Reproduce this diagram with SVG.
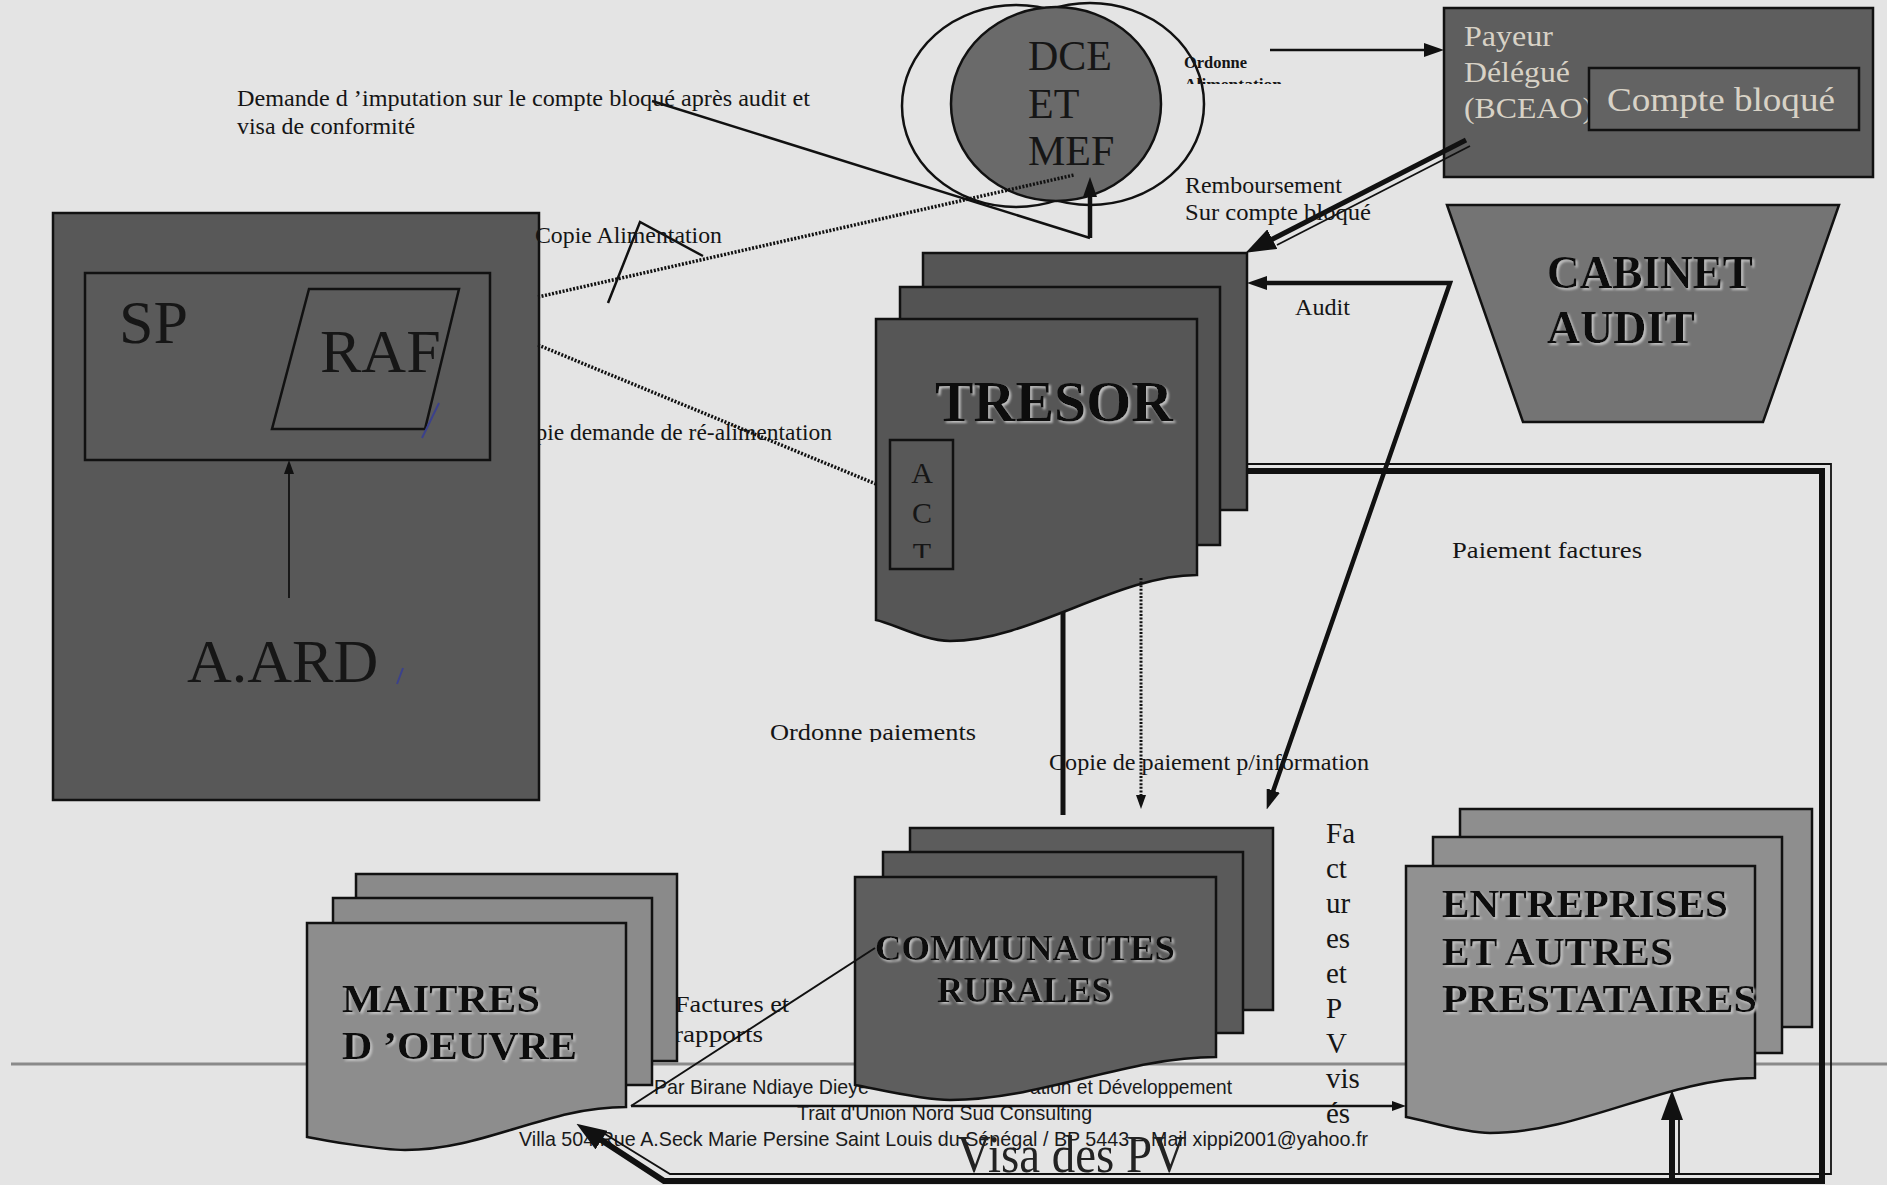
<svg xmlns="http://www.w3.org/2000/svg" width="1887" height="1185" viewBox="0 0 1887 1185">
<defs>
<style>
.bg{fill:#e4e4e4}
.nd{stroke:#111;stroke-width:2.5}
.lbl{font-family:"Liberation Serif","Times New Roman",serif;font-size:23px;fill:#151515}
.big{font-family:"Liberation Serif","Times New Roman",serif;fill:#161616}
.title{font-family:"Liberation Serif","Times New Roman",serif;font-weight:bold;fill:#111;filter:url(#emb)}
.pale{font-family:"Liberation Serif","Times New Roman",serif;fill:#d8d2c6}
.foot{font-family:"Liberation Sans Narrow","Liberation Sans",Arial,sans-serif;font-size:21px;fill:#1a1a1a}
.ln{fill:none;stroke:#111}
.dot{fill:none;stroke:#111;stroke-width:3.5;stroke-dasharray:2 1.6}
.pen{fill:none;stroke:#3b418c;stroke-width:2}
</style>
<filter id="emb" x="-5%" y="-20%" width="115%" height="150%">
<feDropShadow dx="2" dy="2" stdDeviation="0.8" flood-color="#c9c9c9" flood-opacity="0.9"/>
</filter>
<marker id="aL" markerUnits="userSpaceOnUse" markerWidth="30" markerHeight="22" refX="15" refY="11" orient="auto"><path d="M0,0 L30,11 L0,22 z" fill="#111"/></marker>
<marker id="aM" markerUnits="userSpaceOnUse" markerWidth="20" markerHeight="14" refX="10" refY="7" orient="auto-start-reverse"><path d="M0,0 L20,7 L0,14 z" fill="#111"/></marker>
<marker id="aS" markerUnits="userSpaceOnUse" markerWidth="14" markerHeight="10" refX="7" refY="5" orient="auto"><path d="M0,0 L14,5 L0,10 z" fill="#111"/></marker>
<clipPath id="cAlim"><rect x="1175" y="0" width="130" height="84"/></clipPath>
<clipPath id="cOrdP"><rect x="760" y="700" width="230" height="42"/></clipPath>
<clipPath id="cTrait"><rect x="785" y="1107" width="320" height="30"/></clipPath>
<clipPath id="cACT"><rect x="890" y="440" width="63" height="118"/></clipPath>
</defs>

<rect class="bg" x="0" y="0" width="1887" height="1185"/>

<g id="letterhead">
<line x1="11" y1="1064" x2="1887" y2="1064" stroke="#8a8a8a" stroke-width="3"/>
<text class="foot" x="654" y="1094" textLength="215" lengthAdjust="spacingAndGlyphs">Par Birane Ndiaye Dieye</text>
<text class="foot" x="1030" y="1094" textLength="202" lengthAdjust="spacingAndGlyphs">ation et Développement</text>
<text class="foot" x="797" y="1120" textLength="295" lengthAdjust="spacingAndGlyphs" clip-path="url(#cTrait)">Trait d'Union Nord Sud Consulting</text>
<text class="foot" x="519" y="1146" textLength="849" lengthAdjust="spacingAndGlyphs">Villa 504 Rue A.Seck Marie Persine Saint Louis du Sénégal / BP 5443 – Mail xippi2001@yahoo.fr</text>
</g>

<g id="labels-under">
<text class="lbl" x="508" y="440" textLength="324" lengthAdjust="spacingAndGlyphs">Copie demande de ré-alimentation</text>
<text class="lbl" x="675" y="1012" textLength="114" lengthAdjust="spacingAndGlyphs">Factures et</text>
<text class="lbl" x="674" y="1042" textLength="89" lengthAdjust="spacingAndGlyphs">rapports</text>
</g>

<g id="node-aard">
<rect class="nd" x="53" y="213" width="486" height="587" fill="#585858"/>
<rect class="nd" x="85" y="273" width="405" height="187" fill="#5a5a5a"/>
<text class="big" x="119" y="343" font-size="62">SP</text>
<polygon class="nd" points="309,289 459,289 425,429 272,429" fill="#5c5c5c"/>
<text class="big" x="320" y="372" font-size="62">RAF</text>
<text class="big" x="187" y="682" font-size="62">A.ARD</text>
<path class="pen" d="M422,438 L439,403"/>
<path class="pen" d="M403,668 L397,684"/>
</g>

<g id="node-dce">
<ellipse cx="1016" cy="106" rx="114" ry="101" fill="none" stroke="#111" stroke-width="2.5"/>
<ellipse cx="1090" cy="104" rx="114" ry="101" fill="none" stroke="#111" stroke-width="2.5"/>
<ellipse class="nd" cx="1056" cy="104" rx="105" ry="97" fill="#6a6a6a"/>
<text class="big" x="1028" y="70" font-size="42">DCE</text>
<text class="big" x="1028" y="118" font-size="42">ET</text>
<text class="big" x="1028" y="165" font-size="42">MEF</text>
</g>

<g id="node-payeur">
<rect class="nd" x="1444" y="8" width="429" height="169" fill="#5e5e5e"/>
<text class="pale" x="1464" y="46" font-size="30" textLength="89" lengthAdjust="spacingAndGlyphs">Payeur</text>
<text class="pale" x="1464" y="82" font-size="30" textLength="106" lengthAdjust="spacingAndGlyphs">Délégué</text>
<text class="pale" x="1464" y="118" font-size="30" textLength="129" lengthAdjust="spacingAndGlyphs">(BCEAO)</text>
<rect class="nd" x="1589" y="68" width="270" height="62" fill="#636363"/>
<text class="pale" x="1607" y="111" font-size="34" textLength="228" lengthAdjust="spacingAndGlyphs">Compte bloqué</text>
</g>

<g id="node-cabinet">
<polygon class="nd" points="1447,205 1839,205 1763,422 1523,422" fill="#747474"/>
<text class="title" x="1547" y="288" font-size="46" textLength="206" lengthAdjust="spacingAndGlyphs">CABINET</text>
<text class="title" x="1547" y="343" font-size="46" textLength="148" lengthAdjust="spacingAndGlyphs">AUDIT</text>
</g>

<g id="node-tresor">
<rect class="nd" x="923" y="253" width="324" height="257" fill="#555"/>
<rect class="nd" x="900" y="287" width="320" height="258" fill="#535353"/>
<path class="nd" fill="#565656" d="M876,319 H1197 V575 C1117,575 1030,641 950,641 C924,641 892,623 876,620 Z"/>
<text class="title" x="935" y="421" font-size="58" textLength="238" lengthAdjust="spacingAndGlyphs">TRESOR</text>
<rect class="nd" x="890" y="440" width="63" height="129" fill="#585858"/>
<g clip-path="url(#cACT)" class="big" font-size="30" text-anchor="middle">
<text x="922" y="483">A</text>
<text x="922" y="523">C</text>
<text x="922" y="563">T</text>
</g>
</g>

<g id="node-communautes">
<rect class="nd" x="910" y="828" width="363" height="182" fill="#5c5c5c"/>
<rect class="nd" x="883" y="852" width="360" height="181" fill="#5a5a5a"/>
<path class="nd" fill="#5e5e5e" d="M855,877 H1216 V1057 C1126,1057 1040,1100 950,1100 C921,1100 873,1088 855,1085 Z"/>
<text class="title" x="875" y="960" font-size="36" textLength="300" lengthAdjust="spacingAndGlyphs">COMMUNAUTES</text>
<text class="title" x="937" y="1002" font-size="36" textLength="175" lengthAdjust="spacingAndGlyphs">RURALES</text>
</g>

<g id="node-maitres">
<rect class="nd" x="356" y="874" width="321" height="187" fill="#8a8a8a"/>
<rect class="nd" x="333" y="898" width="319" height="187" fill="#8b8b8b"/>
<path class="nd" fill="#8d8d8d" d="M307,923 H626 V1107 C546,1107 485,1150 405,1150 C380,1150 322,1140 307,1137 Z"/>
<text class="title" x="342" y="1012" font-size="41" textLength="198" lengthAdjust="spacingAndGlyphs">MAITRES</text>
<text class="title" x="342" y="1059" font-size="41" textLength="235" lengthAdjust="spacingAndGlyphs">D ’OEUVRE</text>
</g>

<g id="node-entreprises">
<rect class="nd" x="1460" y="809" width="352" height="218" fill="#8e8e8e"/>
<rect class="nd" x="1433" y="837" width="349" height="216" fill="#8f8f8f"/>
<path class="nd" fill="#919191" d="M1406,866 H1755 V1078 C1668,1078 1580,1133 1490,1133 C1462,1133 1425,1120 1406,1117 Z"/>
<text class="title" x="1442" y="917" font-size="41" textLength="286" lengthAdjust="spacingAndGlyphs">ENTREPRISES</text>
<text class="title" x="1442" y="965" font-size="41" textLength="231" lengthAdjust="spacingAndGlyphs">ET AUTRES</text>
<text class="title" x="1442" y="1012" font-size="41" textLength="315" lengthAdjust="spacingAndGlyphs">PRESTATAIRES</text>
</g>

<g id="connectors">
<line class="ln" x1="1270" y1="50" x2="1434" y2="50" stroke-width="2.5" marker-end="url(#aM)"/>
<polyline class="ln" points="652,101 1090,238" stroke-width="2.5"/>
<line class="ln" x1="1090" y1="238" x2="1090" y2="187" stroke-width="4.5" marker-end="url(#aM)"/>
<line class="dot" x1="538" y1="297" x2="1074" y2="175"/>
<polyline class="ln" points="608,303 640,222 703,256" stroke-width="2.5"/>
<line class="dot" x1="538" y1="345" x2="876" y2="484"/>
<line class="ln" x1="1466" y1="140" x2="1259" y2="246" stroke-width="5" marker-end="url(#aL)"/>
<line class="ln" x1="1470" y1="146" x2="1277" y2="245" stroke-width="1.8"/>
<path class="ln" d="M1257,283 H1450 L1270,800" stroke-width="4.5" marker-start="url(#aM)" marker-end="url(#aM)"/>
<line class="ln" x1="289" y1="598" x2="289" y2="467" stroke-width="1.8" marker-end="url(#aS)"/>
<line class="ln" x1="1063" y1="612" x2="1063" y2="815" stroke-width="5"/>
<line class="dot" x1="1141" y1="578" x2="1141" y2="802" style="stroke-width:3" marker-end="url(#aS)"/>
<path class="ln" d="M1247,471 H1822 V1181 H664 L589,1132" stroke-width="6" marker-end="url(#aL)"/>
<path class="ln" d="M1247,464 H1831 V1174 H670 L605,1134" stroke-width="1.8"/>
<line class="ln" x1="1672" y1="1181" x2="1672" y2="1105" stroke-width="6" marker-end="url(#aL)"/>
<line class="ln" x1="1679" y1="1174" x2="1679" y2="1118" stroke-width="1.8"/>
<line class="ln" x1="631" y1="1106" x2="1399" y2="1106" stroke-width="2.5" marker-end="url(#aS)"/>
<line class="ln" x1="631" y1="1106" x2="875" y2="948" stroke-width="2"/>
</g>

<g id="labels">
<text class="lbl" x="237" y="106" style="font-size:24px" textLength="573" lengthAdjust="spacingAndGlyphs">Demande d ’imputation sur le compte bloqué après  audit et</text>
<text class="lbl" x="237" y="134" style="font-size:24px" textLength="178" lengthAdjust="spacingAndGlyphs">visa de conformité</text>
<text class="lbl" x="1184" y="68" style="font-size:17px;font-weight:bold" textLength="63" lengthAdjust="spacingAndGlyphs">Ordonne</text>
<text class="lbl" x="1184" y="90" style="font-size:17px;font-weight:bold" textLength="98" lengthAdjust="spacingAndGlyphs" clip-path="url(#cAlim)">Alimentation</text>
<text class="lbl" x="535" y="243" textLength="187" lengthAdjust="spacingAndGlyphs">Copie Alimentation</text>
<text class="lbl" x="1185" y="193" textLength="157" lengthAdjust="spacingAndGlyphs">Remboursement</text>
<text class="lbl" x="1185" y="220" textLength="186" lengthAdjust="spacingAndGlyphs">Sur compte bloqué</text>
<text class="lbl" x="1295" y="315" textLength="55" lengthAdjust="spacingAndGlyphs">Audit</text>
<text class="lbl" x="1452" y="558" textLength="190" lengthAdjust="spacingAndGlyphs">Paiement factures</text>
<text class="lbl" x="770" y="740" textLength="206" lengthAdjust="spacingAndGlyphs" clip-path="url(#cOrdP)">Ordonne paiements</text>
<text class="lbl" x="1049" y="770" textLength="320" lengthAdjust="spacingAndGlyphs">Copie de paiement p/information</text>
<g class="lbl" style="font-size:29px">
<text x="1326" y="843">Fa</text>
<text x="1326" y="878">ct</text>
<text x="1326" y="913">ur</text>
<text x="1326" y="948">es</text>
<text x="1326" y="983">et</text>
<text x="1326" y="1018">P</text>
<text x="1326" y="1053">V</text>
<text x="1326" y="1088">vis</text>
<text x="1326" y="1123">és</text>
</g>
<text class="lbl" x="957" y="1172" style="font-size:52px;fill:#222" textLength="229" lengthAdjust="spacingAndGlyphs">Visa des PV</text>
</g>
</svg>
